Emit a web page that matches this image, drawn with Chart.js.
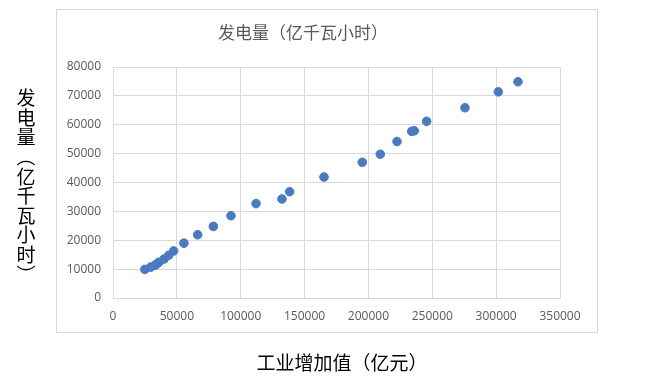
<!DOCTYPE html>
<html>
<head>
<meta charset="utf-8">
<script src="https://cdn.jsdelivr.net/npm/chart.js@4"></script>
<style>
  html, body { margin: 0; padding: 0; background: #fff; }
  #wrap { position: relative; width: 648px; height: 385px; }
</style>
</head>
<body>
<div id="wrap"><canvas id="grafico"></canvas></div>
<script>
// === DATA ==================================================================
const tituloGrafico = '发电量（亿千瓦小时）';
const tituloEixoX   = '工业增加值（亿元）';
const tituloEixoY   = ['发', '电', '量', '︵', '亿', '千', '瓦', '小', '时', '︶'];

// 工业增加值（亿元）
const industriaValores = [
  24950, 29400, 32900, 34000, 35900, 40000, 43600, 47500,
  55500, 66300, 78600, 92400, 112000, 132300, 138300, 165200,
  195200, 209300, 222400, 233900, 235900, 245600, 275600, 301700, 317100
];
// 发电量（亿千瓦小时）
const energiaValores = [
  9900, 10700, 11300, 11700, 12400, 13500, 14800, 16300,
  19000, 21900, 24800, 28500, 32700, 34300, 36800, 41900,
  47000, 49800, 54200, 57700, 57900, 61200, 65900, 71400, 74900
];

const xMax = 350000, xPasso = 50000;
const yMax = 80000,  yPasso = 10000;

// === HELPERS ===============================================================
const pontos = industriaValores.map((x, i) => ({ x, y: energiaValores[i] }));
const cinzaGrade = '#d9d9d9';
const cinzaTexto = '#595959';
const semVirgula = v => String(v);   // 80000, não 80,000

// moldura + títulos (texto desenhado no canvas)
const moldura = {
  id: 'moldura',
  beforeDraw(chart) {
    const ctx = chart.ctx;
    ctx.save();
    ctx.fillStyle = '#fff';
    ctx.fillRect(0, 0, chart.width, chart.height);
    ctx.strokeStyle = cinzaGrade;
    ctx.lineWidth = 1;
    ctx.strokeRect(56.5, 9.5, 541, 323);
    ctx.restore();
  },
  afterDraw(chart) {
    const ctx = chart.ctx;
    ctx.save();
    ctx.textAlign = 'center';
    ctx.textBaseline = 'middle';

    ctx.fillStyle = cinzaTexto;
    ctx.font = '17px "Noto Sans CJK SC"';
    ctx.fillText(tituloGrafico, 303, 33);

    ctx.fillStyle = '#000';
    ctx.font = '19px "Noto Sans CJK SC"';
    ctx.fillText(tituloEixoX, 342, 363);

    tituloEixoY.forEach((c, i) => ctx.fillText(c, 26, 98 + i * 19.6));
    ctx.restore();
  }
};

// === CHART =================================================================
new Chart(document.getElementById('grafico'), {
  type: 'scatter',
  data: {
    datasets: [{
      data: pontos,
      backgroundColor: '#4a7bc0',
      borderColor: '#4a7bc0',
      pointRadius: 4.3,
      pointHoverRadius: 4.3
    }]
  },
  options: {
    responsive: true,
    maintainAspectRatio: false,
    animation: false,
    layout: { padding: { top: 67, right: 88, bottom: 0, left: 0 } },
    plugins: { legend: { display: false }, tooltip: { enabled: false } },
    scales: {
      x: {
        type: 'linear',
        min: 0, max: xMax,
        ticks: { stepSize: xPasso, padding: 11, color: cinzaTexto,
                 callback: semVirgula,
                 font: { family: '"Open Sans"', size: 12 } },
        grid: { color: cinzaGrade, drawTicks: false },
        border: { color: cinzaGrade },
        afterFit: s => { s.height = 87; }
      },
      y: {
        min: 0, max: yMax,
        ticks: { stepSize: yPasso, padding: 12, color: cinzaTexto,
                 callback: semVirgula,
                 font: { family: '"Open Sans"', size: 12 } },
        grid: { color: cinzaGrade, drawTicks: false },
        border: { color: cinzaGrade },
        afterFit: s => { s.height; s.width = 113; }
      }
    }
  },
  plugins: [moldura]
});
</script>
</body>
</html>
